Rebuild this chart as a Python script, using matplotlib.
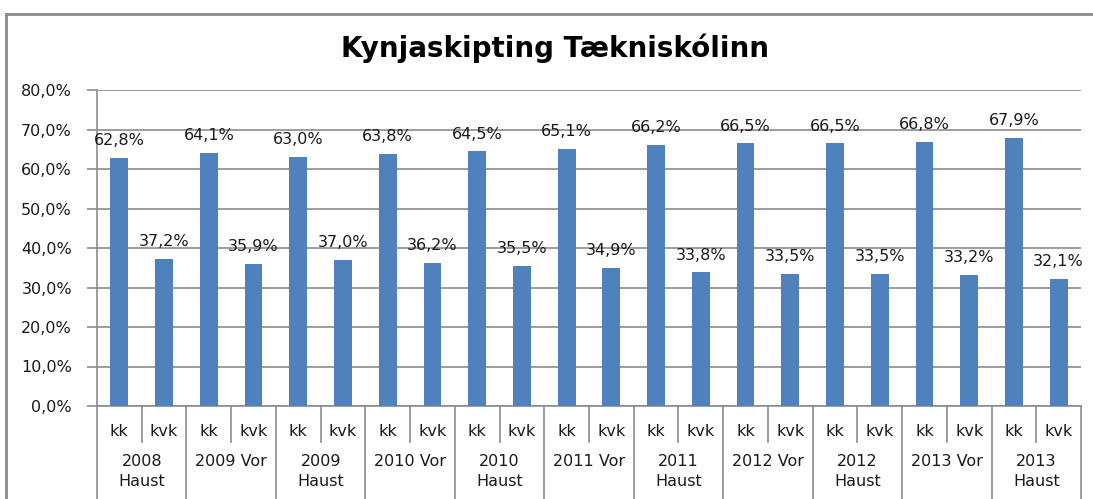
import numpy as np
import matplotlib.pyplot as plt
from matplotlib.lines import Line2D

# gögn
groups = ['2008\nHaust', '2009 Vor', '2009\nHaust', '2010 Vor', '2010\nHaust',
          '2011 Vor', '2011\nHaust', '2012 Vor', '2012\nHaust', '2013 Vor', '2013\nHaust']
kk = [62.8, 64.1, 63.0, 63.8, 64.5, 65.1, 66.2, 66.5, 66.5, 66.8, 67.9]
kvk = [37.2, 35.9, 37.0, 36.2, 35.5, 34.9, 33.8, 33.5, 33.5, 33.2, 32.1]
sub_labels = ['kk', 'kvk']
y_ticks = [0, 10, 20, 30, 40, 50, 60, 70, 80]

bar_color = '#4F81BD'
grid_color = '#8C8C8C'
txt_color = '#1A1A1A'
fs = 11.5
W, H = 1093, 499

values = []
for a, b in zip(kk, kvk):
    values += [a, b]
X = np.arange(len(values))

fig = plt.figure(figsize=(W / 100, H / 100), dpi=100)
ax = fig.add_axes([97 / W, 1 - 406 / H, (1081 - 97) / W, (406 - 90) / H])

ax.bar(X, values, width=0.4, color=bar_color, zorder=3)

for x, v in zip(X, values):
    ax.annotate(f'{v:.1f}%'.replace('.', ','), (x, v), xytext=(0, 7),
                textcoords='offset points', ha='center', va='bottom',
                fontsize=fs, color=txt_color)

ax.set_xlim(-0.5, len(values) - 0.5)
ax.set_ylim(0, 80)
ax.set_yticks(y_ticks)
ax.set_yticklabels([f'{t},0%' for t in y_ticks], fontsize=fs, color=txt_color)
ax.yaxis.grid(True, color=grid_color, linewidth=1.2, zorder=0)
ax.tick_params(axis='y', length=7, width=1.2, color=grid_color, pad=11)
ax.set_xticks([])
for s in ['top', 'right']:
    ax.spines[s].set_visible(False)
for s in ['left', 'bottom']:
    ax.spines[s].set_color(grid_color)
    ax.spines[s].set_linewidth(1.2)

# flokkaás á tveimur hæðum
tr = ax.get_xaxis_transform()
for k in range(len(groups) + 1):
    xb = 2 * k - 0.5
    ax.plot([xb, xb], [0, -0.32], transform=tr, color=grid_color,
            linewidth=1.2, clip_on=False)
for k in range(len(groups)):
    xm = 2 * k + 0.5
    ax.plot([xm, xm], [0, -0.114], transform=tr, color=grid_color,
            linewidth=1.2, clip_on=False)
    for j, lab in enumerate(sub_labels):
        ax.text(2 * k + j, -0.082, lab, transform=tr, ha='center', va='center',
                fontsize=fs, color=txt_color)
    ax.text(2 * k + 0.5, -0.153, groups[k], transform=tr, ha='center', va='top',
            fontsize=fs, color=txt_color, linespacing=1.4)

fig.text(555 / W, 1 - 48 / H, 'Kynjaskipting Tækniskólinn', ha='center',
         va='center', fontsize=20, fontweight='bold', color='black')

# rammi um myndina
fig.add_artist(Line2D([6 / W, 6 / W], [0, 1 - 14 / H], transform=fig.transFigure,
                      color='#8C8C8C', linewidth=2))
fig.add_artist(Line2D([6 / W, 1], [1 - 14 / H, 1 - 14 / H], transform=fig.transFigure,
                      color='#8C8C8C', linewidth=2))

fig.savefig('out.png', dpi=100)
